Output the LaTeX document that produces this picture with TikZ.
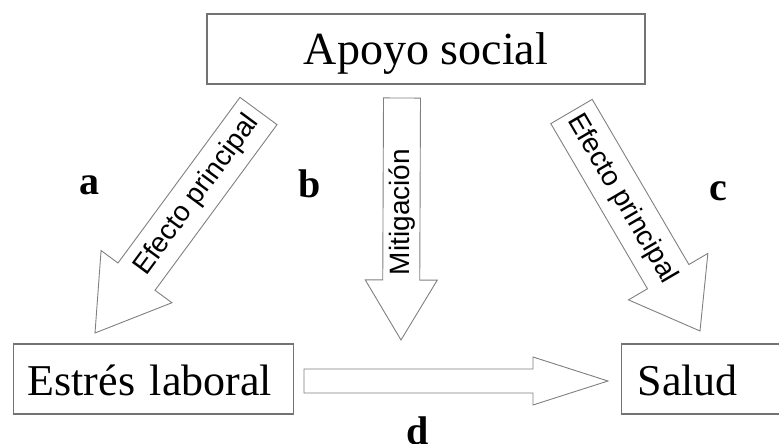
\documentclass[tikz,border=0pt]{standalone}
\usepackage{fontspec}
\setmainfont{Liberation Serif}
\newfontfamily\arialfont{Liberation Sans}
\usetikzlibrary{calc}
\tikzset{
  box/.style={draw=black!55, line width=1.2pt, fill=white, inner sep=0pt,
    text height=32pt, text depth=0pt, minimum height=70pt},
  blockline/.style={draw=black!50, line width=0.9pt, fill=white, line join=miter},
  arrowlabel/.style={font=\arialfont\fontsize{28}{30}\selectfont, inner sep=0pt},
  letter/.style={font=\fontsize{40}{42}\selectfont\bfseries, inner sep=0pt},
}
\newcommand\blockarrow[5]{%
  \path ($(#2)!#5!(#1)$) coordinate (bab);
  \draw[blockline] ($(#1)!#3!90:(#2)$) -- ($(bab)!#3!90:(#2)$) -- ($(bab)!#4!90:(#2)$)
    -- (#2) -- ($(bab)!#4!-90:(#2)$) -- ($(bab)!#3!-90:(#2)$) -- ($(#1)!#3!-90:(#2)$) -- cycle;
}
\begin{document}
\begin{tikzpicture}[x=1pt,y=-1pt]
\useasboundingbox (0,0) rectangle (779,444);
\clip (0,0) rectangle (779,444);
% boxes
\node[box, font=\fontsize{46}{48}\selectfont, minimum width=438pt] (apoyo) at (426,49) {Apoyo social};
\node[box, font=\fontsize{44}{46}\selectfont, anchor=west, inner xsep=14pt, text width=252pt, align=left] (estres) at (13,379) {Estrés laboral};
\node[box, font=\fontsize{44}{46}\selectfont, anchor=west, inner xsep=16pt, text width=170pt, align=left] (salud) at (621,379) {Salud};
% arrow end points
\coordinate (atail) at (258.5,111);
\coordinate (atip) at (95,333);
\coordinate (btail) at (402,98);
\coordinate (btip) at (401,340);
\coordinate (ctail) at (571.5,111.5);
\coordinate (ctip) at (700,331);
\coordinate (dtail) at (304,381);
\coordinate (dtip) at (608,381);
% block arrows
\blockarrow{atail}{atip}{23pt}{44pt}{70pt}
\blockarrow{btail}{btip}{18.5pt}{36pt}{60pt}
\blockarrow{ctail}{ctip}{24pt}{46pt}{63pt}
\blockarrow{dtail}{dtip}{12pt}{24pt}{75pt}
% arrow labels
\node[arrowlabel, rotate=53.6] (la) at (197,195) {Efecto principal};
\node[arrowlabel, rotate=90] (lb) at (402,212) {Mitigación};
\node[arrowlabel, rotate=-59.7] (lc) at (622,199) {Efecto principal};
% letters
\node[letter] (a) at (89,185) {a};
\node[letter] (b) at (310,183.5) {b};
\node[letter] (c) at (718,191) {c};
\node[letter, anchor=north] (d) at (417.5,416.5) {d};
\end{tikzpicture}
\end{document}
